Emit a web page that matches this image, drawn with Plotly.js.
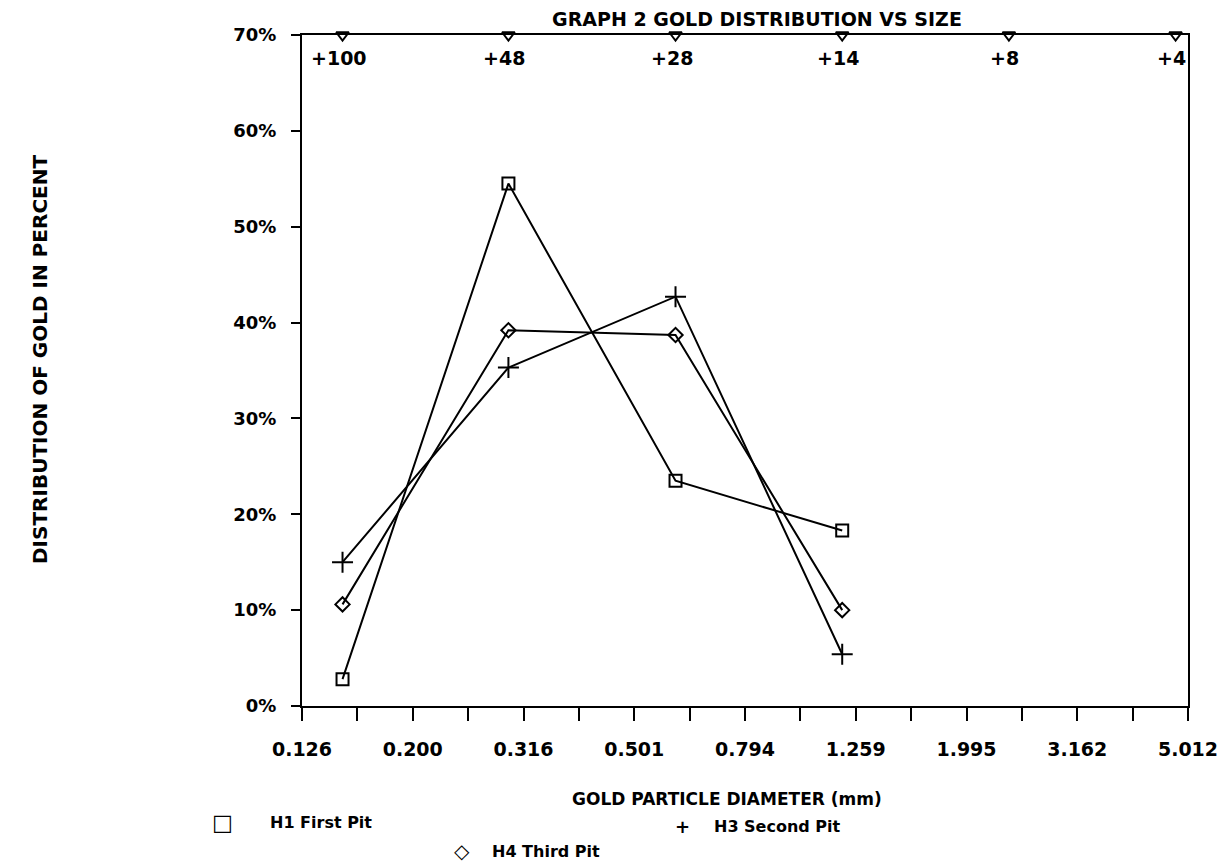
<!DOCTYPE html>
<html><head><meta charset="utf-8">
<script src="https://cdn.plot.ly/plotly-3.0.1.min.js"></script>
<style>html,body{margin:0;padding:0;background:#fff}</style>
</head><body>
<div id="chart" style="width:1222px;height:866px"></div>
<script>
// ---- data ----
const sieveSizes   = [0.149, 0.297, 0.595, 1.19];      // mm
const h1FirstPit   = [2.8, 54.5, 23.5, 18.3];          // %
const h3SecondPit  = [15.0, 35.3, 42.7, 5.4];          // %
const h4ThirdPit   = [10.6, 39.2, 38.7, 10.0];         // %
const meshSizes    = [0.149, 0.297, 0.595, 1.19, 2.38, 4.76];
const meshLabels   = ['+100', '+48', '+28', '+14', '+8', '+4'];
const meshLevel    = [70, 70, 70, 70, 70, 70];
const xTickValues  = [0.12589, 0.19953, 0.31623, 0.50119, 0.79433, 1.25893, 1.99526, 3.16228, 5.01187];
const xTickLabels  = ['0.126', '0.200', '0.316', '0.501', '0.794', '1.259', '1.995', '3.162', '5.012'];
const xMinorValues = [0.15849, 0.25119, 0.39811, 0.63096, 1.0, 1.58489, 2.51189, 3.98107];
const yTickValues  = [0, 10, 20, 30, 40, 50, 60, 70];
const yTickLabels  = ['0%', '10%', '20%', '30%', '40%', '50%', '60%', '70%'];

// ---- layout helpers (pixel -> paper) ----
const L = 302, R = 1188, T = 35, B = 706;
const px = x => (x - L) / (R - L);
const py = y => (B - y) / (B - T);
const FONT = {family: 'DejaVu Sans', size: 17, color: '#000', weight: 'bold'};
const f = s => Object.assign({}, FONT, {size: s});

const common = {type: 'scatter', showlegend: false, hoverinfo: 'skip', cliponaxis: false,
                line: {color: '#000', width: 2}};

const traces = [
  Object.assign({}, common, {x: sieveSizes, y: h1FirstPit, mode: 'lines+markers', name: 'H1 First Pit',
    marker: {symbol: 'square-open', size: 12, color: '#000', line: {color: '#000', width: 2}}}),
  Object.assign({}, common, {x: sieveSizes, y: h3SecondPit, mode: 'lines+markers', name: 'H3 Second Pit',
    marker: {symbol: 'cross-thin-open', size: 15, color: '#000', line: {color: '#000', width: 2}}}),
  Object.assign({}, common, {x: sieveSizes, y: h4ThirdPit, mode: 'lines+markers', name: 'H4 Third Pit',
    marker: {symbol: 'diamond-open', size: 11, color: '#000', line: {color: '#000', width: 2}}}),
  Object.assign({}, common, {x: meshSizes, y: meshLevel, mode: 'markers', name: 'mesh',
    marker: {symbol: 'triangle-down-open', size: 11, color: '#000', line: {color: '#000', width: 2}}})
];

const meshAnnotations = meshSizes.map((s, i) => ({
  text: meshLabels[i], x: Math.log10(s), y: meshLevel[i], xref: 'x', yref: 'y',
  xanchor: 'center', yanchor: 'middle', xshift: -4, yshift: -23, showarrow: false, font: f(19)
}));

const layout = {
  width: 1222, height: 866,
  paper_bgcolor: '#fff', plot_bgcolor: '#fff',
  margin: {l: L, r: 1222 - R, t: T, b: 866 - B, pad: 0},
  font: FONT,
  title: {text: 'GRAPH 2 GOLD DISTRIBUTION VS SIZE', font: f(19),
          xref: 'container', yref: 'container', x: 757 / 1222, xanchor: 'center',
          y: 1 - 19 / 866, yanchor: 'middle'},
  xaxis: {
    type: 'log', range: [Math.log10(0.12589), Math.log10(5.01187)],
    tickmode: 'array', tickvals: xTickValues, ticktext: xTickLabels,
    ticks: 'outside', ticklen: 13, tickwidth: 2, tickcolor: '#000',
    ticklabelstandoff: 12,
    minor: {tickmode: 'array', tickvals: xMinorValues, ticks: 'outside', ticklen: 13, tickwidth: 2, tickcolor: '#000', showgrid: false},
    showline: true, linecolor: '#000', linewidth: 2, mirror: true,
    showgrid: false, zeroline: false,
    tickfont: f(19)
  },
  yaxis: {
    range: [0, 70], tickmode: 'array', tickvals: yTickValues, ticktext: yTickLabels,
    ticks: 'outside', ticklen: 9, tickwidth: 2, tickcolor: '#000',
    ticklabelstandoff: 11,
    showline: true, linecolor: '#000', linewidth: 2, mirror: true,
    showgrid: false, zeroline: false,
    tickfont: f(18)
  },
  annotations: meshAnnotations.concat([
    {text: 'DISTRIBUTION OF GOLD IN PERCENT', textangle: -90, xref: 'paper', yref: 'paper',
     x: px(40), y: py(360), xanchor: 'center', yanchor: 'middle', showarrow: false, font: f(20)},
    {text: 'GOLD PARTICLE DIAMETER (mm)', xref: 'paper', yref: 'paper',
     x: px(727), y: py(799), xanchor: 'center', yanchor: 'middle', showarrow: false, font: f(17)},
    {text: '□', xref: 'paper', yref: 'paper', x: px(222), y: py(822), xanchor: 'center', yanchor: 'middle',
     showarrow: false, font: f(22)},
    {text: 'H1 First Pit', xref: 'paper', yref: 'paper', x: px(268), y: py(822), xanchor: 'left', yanchor: 'middle',
     showarrow: false, font: f(16)},
    {text: '+', xref: 'paper', yref: 'paper', x: px(682), y: py(826), xanchor: 'center', yanchor: 'middle',
     showarrow: false, font: f(18)},
    {text: 'H3 Second Pit', xref: 'paper', yref: 'paper', x: px(712), y: py(826), xanchor: 'left', yanchor: 'middle',
     showarrow: false, font: f(16)},
    {text: '◇', xref: 'paper', yref: 'paper', x: px(462), y: py(851), xanchor: 'center', yanchor: 'middle',
     showarrow: false, font: f(20)},
    {text: 'H4 Third Pit', xref: 'paper', yref: 'paper', x: px(490), y: py(851), xanchor: 'left', yanchor: 'middle',
     showarrow: false, font: f(16)}
  ])
};

Plotly.newPlot('chart', traces, layout, {staticPlot: true, displayModeBar: false});
</script>
</body></html>
